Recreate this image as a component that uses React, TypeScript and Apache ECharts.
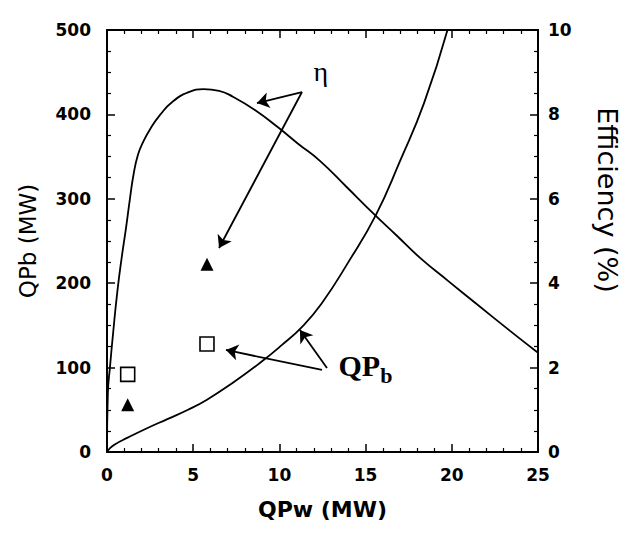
import React, { useEffect, useRef } from "react";
import * as echarts from "echarts";

// QPb curve (left axis, MW) vs QPw (MW)
const qpbX = [0, 0.15, 0.45, 1.2, 2.2, 3.5, 4.7, 5.8, 7.3, 8.9, 10.1, 11.3, 12.45, 14.0, 15.6, 17.0, 18.4, 19.75];
const qpbY = [0, 4, 9, 17, 27, 39, 50, 62, 82, 106, 126, 148, 176, 225, 281, 345, 414, 500];

// Efficiency curve (right axis, %) vs QPw (MW)
const etaX = [0, 0.05, 0.17, 0.35, 0.6, 0.85, 1.1, 1.33, 1.55, 1.8, 2.1, 2.5, 3.1, 3.8, 4.7, 5.6, 6.5, 7.3, 8.6, 9.9, 11.1, 12.35, 13.9, 15.43, 16.8, 18.16, 19.8, 21.46, 23.38, 25];
const etaY = [0, 1.4, 2.0, 2.8, 3.8, 4.6, 5.3, 6.0, 6.6, 7.05, 7.35, 7.65, 8.0, 8.3, 8.52, 8.6, 8.56, 8.42, 8.1, 7.7, 7.3, 6.9, 6.28, 5.66, 5.13, 4.6, 4.05, 3.5, 2.87, 2.35];

// measured points
const qpbPtsX = [1.2, 5.8];
const qpbPtsY = [92, 128];
const etaPtsX = [1.2, 5.8];
const etaPtsY = [1.12, 4.45];

// annotation arrows (data units, left axis): [x1, y1, x2, y2]
const arrows = [
  [11.31, 426.5, 8.7, 413.5],
  [11.31, 426.5, 6.5, 241.7],
  [12.47, 97.2, 6.9, 120.9],
  [12.76, 99.5, 11.19, 144.5],
];

const xTicks = { min: 0, max: 25, interval: 5 };
const yLeftTicks = { min: 0, max: 500, interval: 100 };
const yRightTicks = { min: 0, max: 10, interval: 2 };

const zip = (a: number[], b: number[]) => a.map((v, i) => [v, b[i]]);

const tickFont = {
  color: "#000",
  fontFamily: "DejaVu Sans",
  fontWeight: "bold" as const,
  fontSize: 17,
};

const axisLine = { show: true, onZero: false, lineStyle: { color: "#000", width: 2 } };
const axisTick = { show: true, inside: true, length: 8, lineStyle: { color: "#000", width: 1.5 } };
const minorTick = (n: number) => ({ show: true, splitNumber: n, length: 4, lineStyle: { color: "#000", width: 1.2 } });

export default function App() {
  const ref = useRef<HTMLDivElement>(null);
  useEffect(() => {
    if (!ref.current) return;
    const chart = echarts.init(ref.current, null, { renderer: "svg" });
    const option: any = {
      animation: false,
      backgroundColor: "#fff",
      grid: { left: 107, right: 92, top: 30, bottom: 81 },
      xAxis: [
        {
          type: "value",
          ...xTicks,
          position: "bottom",
          axisLine,
          axisTick,
          minorTick: minorTick(5),
          splitLine: { show: false },
          axisLabel: { ...tickFont, margin: 14 },
          name: "QPw (MW)",
          nameLocation: "middle",
          nameGap: 46,
          nameTextStyle: { color: "#000", fontFamily: "DejaVu Sans", fontWeight: "bold", fontSize: 22 },
        },
        {
          type: "value",
          ...xTicks,
          position: "top",
          axisLine,
          axisTick,
          minorTick: minorTick(5),
          splitLine: { show: false },
          axisLabel: { show: false },
        },
      ],
      yAxis: [
        {
          type: "value",
          ...yLeftTicks,
          position: "left",
          axisLine,
          axisTick,
          minorTick: minorTick(4),
          splitLine: { show: false },
          axisLabel: { ...tickFont, margin: 16 },
          name: "QPb (MW)",
          nameLocation: "middle",
          nameRotate: 90,
          nameGap: 68,
          nameTextStyle: { color: "#000", fontFamily: "DejaVu Sans", fontSize: 23 },
        },
        {
          type: "value",
          ...yRightTicks,
          position: "right",
          axisLine,
          axisTick,
          minorTick: minorTick(4),
          splitLine: { show: false },
          axisLabel: { ...tickFont, margin: 10 },
        },
      ],
      graphic: [
        {
          type: "text",
          x: 607,
          y: 200,
          rotation: -Math.PI / 2,
          style: {
            text: "Efficiency (%)",
            fontFamily: "DejaVu Sans",
            fontSize: 27,
            fill: "#000",
            align: "center",
            verticalAlign: "middle",
          },
        },
      ],
      series: [
        {
          name: "QPb",
          type: "line",
          xAxisIndex: 0,
          yAxisIndex: 0,
          data: zip(qpbX, qpbY),
          showSymbol: false,
          smooth: 0.5,
          lineStyle: { color: "#000", width: 1.8 },
        },
        {
          name: "eta",
          type: "line",
          xAxisIndex: 0,
          yAxisIndex: 1,
          data: zip(etaX, etaY),
          showSymbol: false,
          smooth: 0.5,
          lineStyle: { color: "#000", width: 1.8 },
        },
        {
          name: "QPb data",
          type: "scatter",
          xAxisIndex: 0,
          yAxisIndex: 0,
          data: zip(qpbPtsX, qpbPtsY),
          symbol: "rect",
          symbolSize: 14,
          itemStyle: { color: "#fff", borderColor: "#000", borderWidth: 1.6, opacity: 1 },
        },
        {
          name: "eta data",
          type: "scatter",
          xAxisIndex: 0,
          yAxisIndex: 1,
          data: zip(etaPtsX, etaPtsY),
          symbol: "triangle",
          symbolSize: 13,
          itemStyle: { color: "#000", opacity: 1 },
        },
        {
          type: "lines",
          coordinateSystem: "cartesian2d",
          xAxisIndex: 0,
          yAxisIndex: 0,
          symbol: ["none", "arrow"],
          symbolSize: 12,
          lineStyle: { color: "#000", width: 1.8, opacity: 1, curveness: 0 },
          data: arrows.map((a) => ({ coords: [[a[0], a[1]], [a[2], a[3]]] })),
        },
        {
          type: "scatter",
          xAxisIndex: 0,
          yAxisIndex: 0,
          data: [[12.41, 451]],
          symbolSize: 1,
          itemStyle: { color: "transparent", opacity: 1 },
          label: {
            show: true,
            position: "inside",
            formatter: "η",
            fontFamily: "Liberation Serif",
            fontSize: 28,
            color: "#000",
          },
        },
        {
          type: "scatter",
          xAxisIndex: 0,
          yAxisIndex: 0,
          data: [[13.4, 103]],
          symbolSize: 1,
          itemStyle: { color: "transparent", opacity: 1 },
          label: {
            show: true,
            position: "right",
            distance: 0,
            formatter: "{a|QP}{b|b}",
            rich: {
              a: { fontFamily: "Liberation Serif", fontWeight: "bold", fontSize: 30, lineHeight: 30, verticalAlign: "top", color: "#000" },
              b: { fontFamily: "Liberation Serif", fontWeight: "bold", fontSize: 22, lineHeight: 22, padding: [14, 0, 0, 0], verticalAlign: "top", color: "#000" },
            },
          },
        },
      ],
    };
    chart.setOption(option);
    return () => chart.dispose();
  }, []);
  return <div ref={ref} style={{ position: "fixed", left: 0, top: 0, width: 630, height: 533 }} />;
}
